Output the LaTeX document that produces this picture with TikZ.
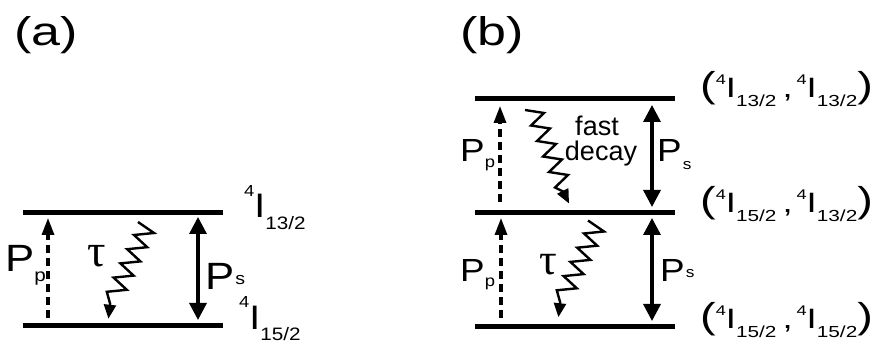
\documentclass[tikz,border=0pt]{standalone}
\usepackage{fontspec}
\setmainfont{Liberation Sans}
\newfontfamily\labfont[FakeStretch=1.15]{Liberation Sans}
\newfontfamily\lvlfont[FakeStretch=1.3]{Liberation Sans}
\newfontfamily\taufont{Liberation Serif}
\usetikzlibrary{arrows.meta}
\newcommand\myfs[1]{\fontsize{#1}{#1}\selectfont}
\newcommand\pairlbl[2]{{\myfs{36}(}\raisebox{13pt}{\myfs{14}4}{\myfs{28}I}\raisebox{-9pt}{\myfs{16}#1}\hspace{6pt}{\myfs{28},}\hspace{4pt}\raisebox{13pt}{\myfs{14}4}{\myfs{28}I}\raisebox{-9pt}{\myfs{16}#2}{\myfs{36})}}
\tikzset{
  lvl/.style={line width=5pt},
  pump/.style={line width=3.2pt, dash pattern=on 8pt off 5pt, -{Triangle[length=17pt,width=12pt]}},
  sig/.style={line width=3.3pt, {Triangle[length=17pt,width=17pt]}-{Triangle[length=17pt,width=17pt]}},
  zig/.style={line width=2.4pt, line join=miter, -{Triangle[length=14pt,width=12pt]}},
  txt/.style={inner sep=0pt, anchor=base west},
  ctxt/.style={inner sep=0pt, anchor=base},
}
\begin{document}
\begin{tikzpicture}[x=1pt,y=-1pt]
\path[fill=white,use as bounding box] (0,0) rectangle (873,344);
% ---------- (a) ----------
\node[txt] (capa) at (14,46) {\lvlfont\myfs{40}(a)};
\coordinate (a1L) at (23,213);   \coordinate (a1R) at (223,213);
\coordinate (a0L) at (23,325.5); \coordinate (a0R) at (223,325.5);
\draw[lvl] (a1L) -- (a1R);
\draw[lvl] (a0L) -- (a0R);
\coordinate (aPpS) at (48,318); \coordinate (aPpE) at (48,218);
\draw[pump] (aPpS) -- (aPpE);
\coordinate (aPsT) at (198,217); \coordinate (aPsB) at (198,320);
\draw[sig] (aPsT) -- (aPsB);
\coordinate (aZ) at (138,222);
\draw[zig] (aZ) -- ++(16,11) -- ++(-20,2) -- ++(13.2,12.2) -- ++(-20,2) -- ++(13.2,12.2) -- ++(-20,2)
  -- ++(13.2,12.2) -- ++(-20,2) -- ++(13.2,12.2) -- ++(-20,2) -- ++(3.3,11.9) -- ++(-1.7,15);
\node[txt] (aPp) at (5,272) {\labfont\myfs{38}P\raisebox{-10pt}{\myfs{18}p}};
\node[txt] (aPs) at (205,290) {\labfont\myfs{38}P\hspace{1pt}\raisebox{5pt}{\myfs{17}s}};
\node[txt] (atau) at (87,267) {\taufont\myfs{46}τ};
\node[txt] (aL1) at (244,218) {\labfont\raisebox{21pt}{\myfs{16}4}\myfs{34}I\raisebox{-12pt}{\myfs{18}13/2}};
\node[txt] (aL0) at (239,330) {\labfont\raisebox{22pt}{\myfs{16}4}\myfs{34}I\raisebox{-11pt}{\myfs{18}15/2}};
% ---------- (b) ----------
\node[txt] (capb) at (460,46) {\lvlfont\myfs{40}(b)};
\coordinate (b2L) at (475,99);  \coordinate (b2R) at (675,99);
\coordinate (b1L) at (475,213); \coordinate (b1R) at (675,213);
\coordinate (b0L) at (475,327); \coordinate (b0R) at (675,327);
\draw[lvl] (b2L) -- (b2R);
\draw[lvl] (b1L) -- (b1R);
\draw[lvl] (b0L) -- (b0R);
% upper band
\coordinate (bUPpS) at (500,202); \coordinate (bUPpE) at (500,106);
\draw[pump] (bUPpS) -- (bUPpE);
\coordinate (bUPsT) at (652,105); \coordinate (bUPsB) at (652,207);
\draw[sig] (bUPsT) -- (bUPsB);
\coordinate (bUZ) at (525,110);
\draw[zig] (bUZ) -- ++(19,3) -- ++(-13,12.5) -- ++(19,3) -- ++(-13,12.5) -- ++(19,3) -- ++(-13,12.5)
  -- ++(19,3) -- ++(-13,12.5) -- ++(19,3) -- ++(-13,12.5) -- ++(8,4) -- ++(6,12);
\node[txt] (bUPp) at (460,162) {\labfont\myfs{32}P\raisebox{-6pt}{\myfs{16}p}};
\node[txt] (bUPs) at (657,162) {\labfont\myfs{32}P\hspace{1pt}\raisebox{-8pt}{\myfs{15}s}};
\node[ctxt] (fast) at (597,136) {\myfs{27}fast};
\node[ctxt] (decay) at (601,161) {\myfs{27}decay};
% lower band
\coordinate (bLPpS) at (501,318); \coordinate (bLPpE) at (501,218);
\draw[pump] (bLPpS) -- (bLPpE);
\coordinate (bLPsT) at (652,218); \coordinate (bLPsB) at (652,321);
\draw[sig] (bLPsT) -- (bLPsB);
\coordinate (bLZ) at (588,220.5);
\draw[zig] (bLZ) -- ++(16,11) -- ++(-20,2) -- ++(13.2,12.2) -- ++(-20,2) -- ++(13.2,12.2) -- ++(-20,2)
  -- ++(13.2,12.2) -- ++(-20,2) -- ++(13.2,12.2) -- ++(-20,2) -- ++(3.3,11.9) -- ++(-1.7,15);
\node[txt] (bLPp) at (460,282) {\labfont\myfs{32}P\raisebox{-5pt}{\myfs{16}p}};
\node[txt] (bLPs) at (660,282) {\labfont\myfs{32}P\hspace{1pt}\raisebox{4pt}{\myfs{15}s}};
\node[txt] (btau) at (539,275) {\taufont\myfs{44}τ};
% level labels
\node[txt] (bL2) at (700,98) {\lvlfont\pairlbl{13/2}{13/2}};
\node[txt] (bL1) at (700,213) {\lvlfont\pairlbl{15/2}{13/2}};
\node[txt] (bL0) at (700,329) {\lvlfont\pairlbl{15/2}{15/2}};
\end{tikzpicture}
\end{document}
